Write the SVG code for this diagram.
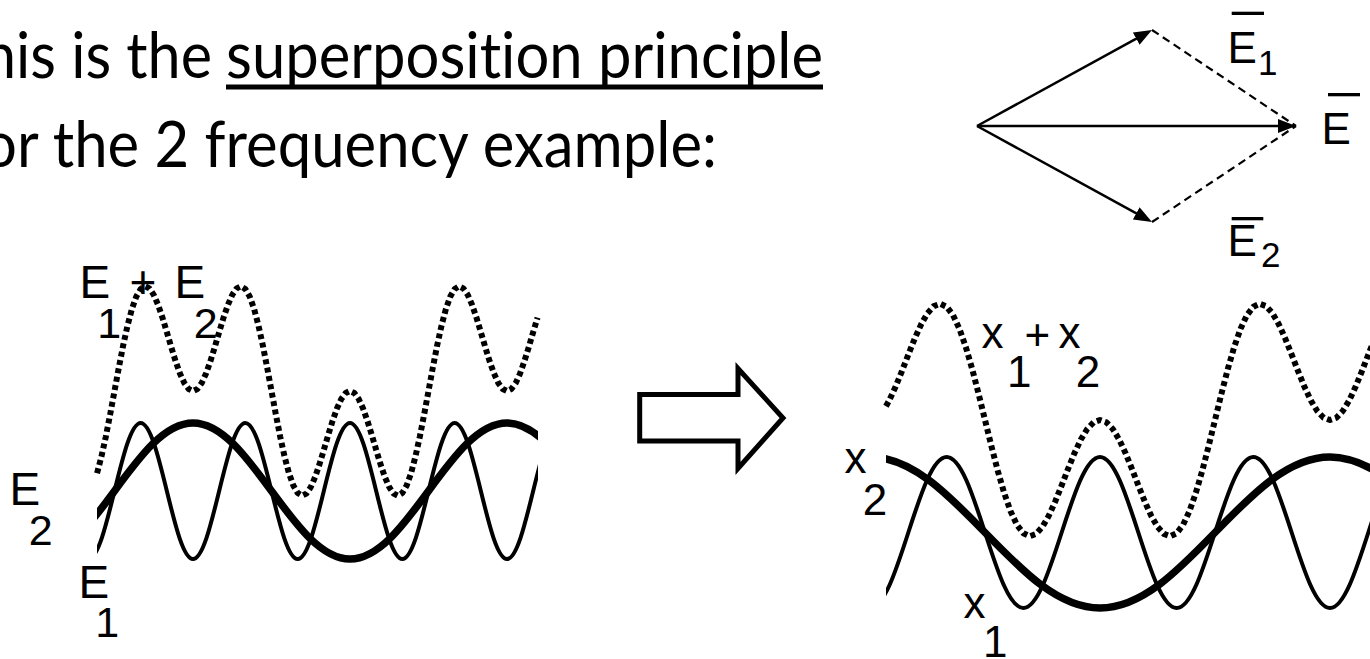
<svg xmlns="http://www.w3.org/2000/svg" width="1370" height="659" viewBox="0 0 1370 659">
<style>
.title{font-family:Lato,"Liberation Sans",sans-serif;font-size:64px;fill:#000;font-variant-ligatures:none;font-feature-settings:"liga" 0,"clig" 0}
.lbl{font-family:"Liberation Sans",Arial,sans-serif;fill:#000}
.big{font-size:46px}
.sub{font-size:43px}
.vl{font-size:44px}
.vs{font-size:35px}
.xl{font-size:44px}
.thin{fill:none;stroke:#000;stroke-width:4}
.thick{fill:none;stroke:#000;stroke-width:7.5}
.dot{fill:none;stroke:#000;stroke-width:6;stroke-dasharray:5 3.5;stroke-linejoin:round}
.vec{fill:none;stroke:#000;stroke-width:2.5}
.dash{fill:none;stroke:#000;stroke-width:2.2;stroke-dasharray:8 5}
</style>
<defs>
<marker id="ah" markerUnits="userSpaceOnUse" markerWidth="18" markerHeight="14" refX="9" refY="7" orient="auto">
<path d="M0,0 L18,7 L0,14 z" fill="#000"/>
</marker>
<clipPath id="clipL"><rect x="97" y="0" width="441" height="659"/></clipPath>
<clipPath id="clipR"><rect x="886" y="0" width="484" height="659"/></clipPath>
</defs>
<rect width="1370" height="659" fill="#fff"/>

<g id="title">
<text class="title" x="-17" y="78" textLength="229" lengthAdjust="spacingAndGlyphs">his is the</text>
<text class="title" x="226" y="78" textLength="597" lengthAdjust="spacingAndGlyphs">superposition principle</text>
<rect x="226" y="84.5" width="597" height="5" fill="#000"/>
<text class="title" x="-17" y="167" textLength="734" lengthAdjust="spacingAndGlyphs">or the 2 frequency example:</text>
</g>

<g id="vector-labels">
<g id="label-E1bar">
<rect x="1231.7" y="11.7" width="32.3" height="3.3" fill="#000"/>
<text class="lbl vl" x="1227.5" y="63.3">E</text>
<text class="lbl vs" x="1258" y="75">1</text>
</g>
<g id="label-Ebar">
<rect x="1328" y="93" width="32" height="3.3" fill="#000"/>
<text class="lbl vl" x="1321.5" y="143.5">E</text>
</g>
<g id="label-E2bar">
<rect x="1231.7" y="217" width="31.6" height="3.3" fill="#000"/>
<text class="lbl vl" x="1227.5" y="255.5">E</text>
<text class="lbl vs" x="1261" y="266.7">2</text>
</g>
</g>

<g id="connectors">
<path class="vec" d="M977,126 L1144.1,34.3" marker-end="url(#ah)"/>
<path class="vec" d="M977,126 L1144.1,217.7" marker-end="url(#ah)"/>
<path class="vec" d="M977,126 L1287,126" marker-end="url(#ah)"/>
<path class="dash" d="M1152,30 L1296,126"/>
<path class="dash" d="M1152,222 L1296,126"/>
</g>

<g id="graph-left">
<g clip-path="url(#clipL)">
<path class="thin" d="M88.333,559
c9.470,0 17.633,-33.16 26.167,-68 c8.534,-34.84 16.697,-68 26.167,-68 c9.470,0 17.633,33.16 26.167,68 c8.534,34.84 16.697,68 26.167,68
c9.470,0 17.633,-33.16 26.167,-68 c8.534,-34.84 16.697,-68 26.167,-68 c9.470,0 17.633,33.16 26.167,68 c8.534,34.84 16.697,68 26.167,68
c9.470,0 17.633,-33.16 26.167,-68 c8.534,-34.84 16.697,-68 26.167,-68 c9.470,0 17.633,33.16 26.167,68 c8.534,34.84 16.697,68 26.167,68
c9.470,0 17.633,-33.16 26.167,-68 c8.534,-34.84 16.697,-68 26.167,-68 c9.470,0 17.633,33.16 26.167,68 c8.534,34.84 16.697,68 26.167,68
c9.470,0 17.633,-33.16 26.167,-68 c8.534,-34.84 16.697,-68 26.167,-68"/>
<path class="thick" d="M36,559
c28.411,0 52.898,-33.16 78.5,-68 c25.602,-34.84 50.089,-68 78.5,-68 c28.411,0 52.898,33.16 78.5,68 c25.602,34.84 50.089,68 78.5,68
c28.411,0 52.898,-33.16 78.5,-68 c25.602,-34.84 50.089,-68 78.5,-68 c28.411,0 52.898,33.16 78.5,68"/>
</g>
<polyline class="dot" points="97.06,473.15 101.42,456.68 105.78,436.81 110.14,414.53 114.50,391 118.86,367.47 123.22,345.19 127.58,325.32 131.94,308.85 136.31,296.58 140.67,289.00 145.03,286.31 149.39,288.40 153.75,294.83 158.11,304.91 162.47,317.70 166.83,332.11 171.19,346.97 175.56,361.10 179.92,373.40 184.28,382.92 188.64,388.94 193.00,391 197.36,388.94 201.72,382.92 206.08,373.40 210.44,361.10 214.81,346.97 219.17,332.11 223.53,317.70 227.89,304.91 232.25,294.83 236.61,288.40 240.97,286.31 245.33,289.00 249.69,296.58 254.06,308.85 258.42,325.32 262.78,345.19 267.14,367.47 271.50,391 275.86,414.53 280.22,436.81 284.58,456.68 288.94,473.15 293.31,485.42 297.67,493.00 302.03,495.69 306.39,493.60 310.75,487.17 315.11,477.09 319.47,464.30 323.83,449.89 328.19,435.03 332.56,420.90 336.92,408.60 341.28,399.08 345.64,393.06 350,391 354.36,393.06 358.72,399.08 363.08,408.60 367.44,420.90 371.81,435.03 376.17,449.89 380.53,464.30 384.89,477.09 389.25,487.17 393.61,493.60 397.97,495.69 402.33,493.00 406.69,485.42 411.06,473.15 415.42,456.68 419.78,436.81 424.14,414.53 428.50,391 432.86,367.47 437.22,345.19 441.58,325.32 445.94,308.85 450.31,296.58 454.67,289.00 459.03,286.31 463.39,288.40 467.75,294.83 472.11,304.91 476.47,317.70 480.83,332.11 485.19,346.97 489.56,361.10 493.92,373.40 498.28,382.92 502.64,388.94 507,391 511.36,388.94 515.72,382.92 520.08,373.40 524.44,361.10 528.81,346.97 533.17,332.11 537.53,317.70"/>
<g id="label-E1plusE2">
<text class="lbl big" x="79.5" y="298">E</text>
<text class="lbl sub" x="97.3" y="338">1</text>
<text class="lbl big" x="129.4" y="298">+</text>
<text class="lbl big" x="174.4" y="298">E</text>
<text class="lbl sub" x="193.7" y="338">2</text>
</g>
<g id="label-E2">
<text class="lbl big" x="9.4" y="505">E</text>
<text class="lbl sub" x="28.7" y="545">2</text>
</g>
<g id="label-E1">
<text class="lbl big" x="78.4" y="598">E</text>
<text class="lbl sub" x="95.3" y="637">1</text>
</g>
</g>

<g id="block-arrow">
<polygon points="639.7,394.5 738,394.5 738,368.5 783,418 738,468.5 738,441 639.7,441" fill="#fff" stroke="#000" stroke-width="5" stroke-linejoin="miter"/>
</g>

<g id="graph-right">
<g clip-path="url(#clipR)">
<path class="thin" d="M870,608
c13.874,0 25.831,-36.82 38.333,-75.5 c12.502,-38.68 24.460,-75.5 38.333,-75.5 c13.874,0 25.831,36.82 38.333,75.5 c12.502,38.68 24.460,75.5 38.333,75.5
c13.874,0 25.831,-36.82 38.333,-75.5 c12.502,-38.68 24.460,-75.5 38.333,-75.5 c13.874,0 25.831,36.82 38.333,75.5 c12.502,38.68 24.460,75.5 38.333,75.5
c13.874,0 25.831,-36.82 38.333,-75.5 c12.502,-38.68 24.460,-75.5 38.333,-75.5 c13.874,0 25.831,36.82 38.333,75.5 c12.502,38.68 24.460,75.5 38.333,75.5
c13.874,0 25.831,-36.82 38.333,-75.5 c12.502,-38.68 24.460,-75.5 38.333,-75.5"/>
<path class="thick" d="M870,457
c41.621,0 77.494,36.82 115,75.5 c37.506,38.68 73.379,75.5 115,75.5 c41.621,0 77.494,-36.82 115,-75.5 c37.506,-38.68 73.379,-75.5 115,-75.5
c41.621,0 77.494,36.82 115,75.5"/>
</g>
<polyline class="dot" points="885.97,406.19 889.17,400.46 895.56,386.80 901.94,371.11 908.33,354.62 914.72,338.61 921.11,324.41 927.50,313.23 933.89,306.08 940.28,303.77 946.67,306.75 953.06,315.16 959.44,328.79 965.83,347.07 972.22,369.14 978.61,393.88 985,420 991.39,446.12 997.78,470.86 1004.17,492.93 1010.56,511.21 1016.94,524.84 1023.33,533.25 1029.72,536.23 1036.11,533.92 1042.50,526.77 1048.89,515.59 1055.28,501.39 1061.67,485.38 1068.06,468.89 1074.44,453.20 1080.83,439.54 1087.22,428.97 1093.61,422.28 1100,420 1106.39,422.28 1112.78,428.97 1119.17,439.54 1125.56,453.20 1131.94,468.89 1138.33,485.38 1144.72,501.39 1151.11,515.59 1157.50,526.77 1163.89,533.92 1170.28,536.23 1176.67,533.25 1183.06,524.84 1189.44,511.21 1195.83,492.93 1202.22,470.86 1208.61,446.12 1215,420 1221.39,393.88 1227.78,369.14 1234.17,347.07 1240.56,328.79 1246.94,315.16 1253.33,306.75 1259.72,303.77 1266.11,306.08 1272.50,313.23 1278.89,324.41 1285.28,338.61 1291.67,354.62 1298.06,371.11 1304.44,386.80 1310.83,400.46 1317.22,411.03 1323.61,417.72 1330,420 1336.39,417.72 1342.78,411.03 1349.17,400.46 1355.56,386.80 1361.94,371.11 1368.33,354.62 1374.72,338.61"/>
<g id="label-x1plusx2">
<text class="lbl xl" x="981.6" y="348">x</text>
<text class="lbl xl" x="1007" y="387">1</text>
<text class="lbl xl" x="1024.5" y="350">+</text>
<text class="lbl xl" x="1058.6" y="348">x</text>
<text class="lbl xl" x="1075.7" y="387">2</text>
</g>
<g id="label-x2">
<text class="lbl xl" x="844.6" y="473">x</text>
<text class="lbl xl" x="862.7" y="515">2</text>
</g>
<g id="label-x1">
<text class="lbl xl" x="963.6" y="618">x</text>
<text class="lbl xl" x="983" y="657">1</text>
</g>
</g>
</svg>
